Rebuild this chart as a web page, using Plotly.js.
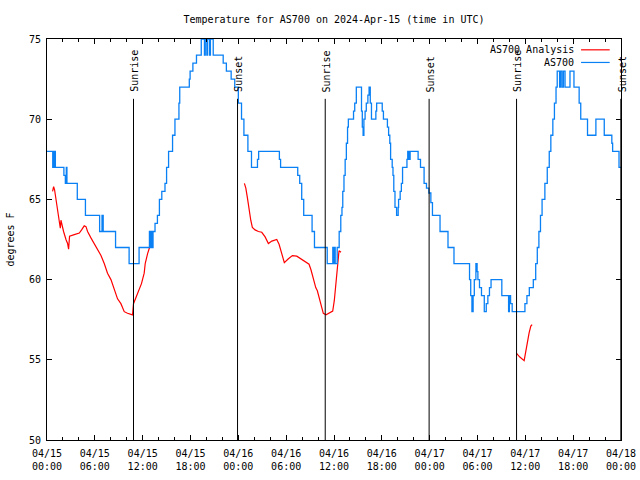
<!DOCTYPE html>
<html>
<head>
<meta charset="utf-8">
<script src="https://cdn.plot.ly/plotly-3.0.1.min.js"></script>
<style>html,body{margin:0;padding:0;background:#fff;}#chart{width:640px;height:480px;}</style>
</head>
<body>
<div id="chart"></div>
<script>
// ---- data (hours after 2024-04-15 00:00 UTC) ----
const chartTitle = "Temperature for AS700 on 2024-Apr-15 (time in UTC)";
const yTitle = "degrees F";
const seriesNames = ["AS700 Analysis", "AS700"];

// AS700 observed (value holds from each time until the next)
const blueHours = [0,0.72,0.78,0.88,0.95,1.05,2.12,2.3,2.42,2.5,3.8,4.82,6.6,6.9,7.05,8.6,10.3,11.55,12.85,12.95,13.05,13.15,13.3,13.55,13.85,14.1,14.4,14.8,15.0,15.25,15.75,16.05,16.55,16.65,17.85,17.95,18.3,18.75,19.35,19.75,19.85,20.05,20.15,20.4,20.5,20.85,22.1,22.5,23.1,23.55,24.0,24.4,24.7,25.2,25.65,26.4,26.55,29.15,29.3,31.45,31.7,31.95,32.2,33.25,33.55,35.15,35.85,35.95,36.05,36.15,36.4,36.65,36.85,37.0,37.1,37.25,37.4,37.55,37.7,37.8,38.45,38.6,38.8,39.45,39.55,39.65,39.75,39.9,40.05,40.25,40.4,40.55,40.7,41.25,41.35,42.05,42.2,42.7,42.85,43.0,43.1,43.3,43.4,43.5,43.65,43.85,44.05,44.1,44.3,44.45,44.6,45.15,45.25,45.3,45.4,45.45,45.55,46.55,46.85,47.3,47.6,47.9,48.15,48.35,49.3,50.3,51.05,53.0,53.15,53.3,53.45,53.6,53.8,53.95,54.05,54.25,54.5,54.85,55.1,55.3,55.5,55.7,57.05,57.9,58.0,58.15,58.35,59.95,60.2,60.5,61.0,61.3,61.5,61.7,61.9,62.1,62.45,62.75,63.0,63.2,63.45,63.65,63.85,64.0,64.3,64.42,64.6,64.78,64.98,65.6,66.1,66.75,66.95,67.8,68.85,69.9,70.85,70.95,71.75,72];
const blueTemps = [68,67,68,67,68,67,66.5,66,67,66,65,64,63,64,63,62,61,62,63,62,63,62,63,63.5,64,65,65.5,66,67,68,69,70,71,72,72.5,73,73.5,74,75,74,75,74,75,74,75,74,73.5,73,72.5,72,71,70,69,68,67,67.5,68,67.5,67,66.5,66,65,64,63,62,61,62,61,62,61,62,63,64,64.5,65.5,66.5,67.5,68.5,69.5,70,70.5,71,72,70.5,69.5,69,70,70.5,71,71.5,72,71,70,70.5,71,70.5,70,69.5,69,68.5,67.5,67,66.5,65.5,64.5,64,64.5,65,65.5,66,67,67.5,68,67.5,68,67.5,68,67.5,67,66,65.7,65.4,64.8,64,63,62,61,60,59,58,59,60,61,60.5,60,59.5,59,58,58.5,59,59.5,60,59,58,59,58.5,58,58.5,59,59.5,60,61,62,63,64,65,66,67,68,69,70,71,72,73,72,73,72,73,72,73,72,71,70,69,70,69,68.5,68,67,67];

// AS700 Analysis (null = no analysis)
const redHours = [0.7,0.83,0.95,1.13,1.33,1.54,1.67,1.75,1.88,2.08,2.38,2.58,2.71,2.83,3.42,4.05,4.34,4.67,4.89,5.09,5.51,5.93,6.34,6.77,7.18,7.59,8.02,8.43,8.85,9.27,9.69,10.1,10.73,10.85,11.15,11.57,11.85,12.19,12.32,12.61,12.86,
  18,
  24.76,24.94,25.14,25.35,25.56,25.76,26.1,26.52,26.94,27.36,27.77,28.2,28.82,29.11,29.45,29.77,30.28,30.78,31.33,31.83,32.37,32.87,33.12,33.41,33.71,33.91,34.16,34.37,34.66,35.0,35.38,35.84,36.04,36.25,36.47,36.63,36.88,
  48,
  58.9,59.31,59.85,60.06,60.28,60.48,60.69,60.85];
const redTemps = [65.5,65.8,65.6,65.0,64.3,63.7,63.2,63.7,63.4,63.0,62.5,62.25,61.9,62.7,62.8,62.9,63.1,63.35,63.3,63.0,62.6,62.25,61.9,61.5,61.0,60.4,60.0,59.4,58.8,58.5,58.0,57.9,57.8,58.5,58.9,59.4,59.75,60.4,61.0,61.6,62.0,
  null,
  66.0,65.7,65.1,64.3,63.7,63.25,63.1,63.0,62.95,62.66,62.25,62.4,62.5,62.2,61.6,61.06,61.3,61.5,61.46,61.3,61.1,60.96,60.6,60.0,59.5,59.3,58.8,58.4,57.9,57.8,57.9,58.04,58.7,59.75,61.0,61.8,61.7,
  null,
  55.4,55.17,54.95,55.6,56.2,56.7,57.1,57.2];

const sunHours = [10.85, 23.9, 34.9, 47.93, 58.9, 71.98];
const sunLabels = ["Sunrise","Sunset","Sunrise","Sunset","Sunrise","Sunset"];

// ---- helpers ----
const T0 = Date.UTC(2024, 3, 15);
function toDate(h) {
  if (h === null) return null;
  const d = new Date(T0 + Math.round(h * 3600000));
  return d.toISOString().replace('T', ' ').slice(0, 19);
}
const FONT = "DejaVu Sans Mono, monospace";
const BLUE = "#0a80f5";
const RED = "#ff0000";
const HOUR = 3600000;

const traces = [
  {x: redHours.map(toDate), y: redTemps, name: seriesNames[0], type: 'scatter', mode: 'lines',
   line: {color: RED, width: 1.2}, connectgaps: false, showlegend: false},
  {x: blueHours.map(toDate), y: blueTemps, name: seriesNames[1], type: 'scatter', mode: 'lines',
   line: {color: BLUE, width: 1.3, shape: 'hv'}, showlegend: false}
];

const shapes = [];
const annotations = [];
sunHours.forEach((h, i) => {
  shapes.push({type: 'line', xref: 'x', yref: 'y', x0: toDate(h), x1: toDate(h), y0: 50, y1: 71.27,
               line: {color: '#000', width: 1}});
  annotations.push({x: toDate(h), y: 71.55, xref: 'x', yref: 'y', text: sunLabels[i], textangle: -90,
                    showarrow: false, xanchor: 'center', yanchor: 'bottom', xshift: 1,
                    font: {family: FONT, size: 10, color: '#000'}});
});
// key (text right-aligned, sample line to the right)
const keyY = [0.973, 0.9415];
const keyColors = [RED, BLUE];
seriesNames.forEach((n, i) => {
  annotations.push({x: 0.922, y: keyY[i], xref: 'paper', yref: 'paper', text: n, showarrow: false,
                    xanchor: 'right', yanchor: 'middle', font: {family: FONT, size: 10, color: '#000'}});
  shapes.push({type: 'line', xref: 'paper', yref: 'paper', x0: 0.9304, x1: 0.9803, y0: keyY[i], y1: keyY[i],
               line: {color: keyColors[i], width: 1.2}});
});

const layout = {
  width: 640, height: 480,
  margin: {l: 47, r: 19, t: 39, b: 40, pad: 0},
  paper_bgcolor: '#fff', plot_bgcolor: '#fff',
  font: {family: FONT, size: 10, color: '#000'},
  showlegend: false,
  title: {text: chartTitle, font: {family: FONT, size: 10, color: '#000'},
          x: 0.5, xref: 'paper', xanchor: 'center', y: 0.96, yref: 'container', yanchor: 'middle'},
  xaxis: {
    type: 'date', range: [toDate(0), toDate(72)],
    tick0: toDate(0), dtick: 6 * HOUR, tickformat: '%m/%d<br>%H:%M',
    ticks: 'inside', ticklen: 5, tickcolor: '#000', tickwidth: 1,
    minor: {dtick: 2 * HOUR, ticks: 'inside', ticklen: 3, tickcolor: '#000', showgrid: false},
    showline: true, linecolor: '#000', linewidth: 1, mirror: 'ticks',
    showgrid: false, zeroline: false, ticklabelstandoff: 4,
    tickfont: {family: FONT, size: 10, color: '#000'}
  },
  yaxis: {
    range: [50, 75], tick0: 50, dtick: 5,
    ticks: 'inside', ticklen: 5, tickcolor: '#000', tickwidth: 1,
    showline: true, linecolor: '#000', linewidth: 1, mirror: 'ticks',
    showgrid: false, zeroline: false, ticklabelstandoff: 3,
    tickfont: {family: FONT, size: 10, color: '#000'},
    title: {text: yTitle, font: {family: FONT, size: 10, color: '#000'}, standoff: 12}
  },
  shapes: shapes,
  annotations: annotations
};

Plotly.newPlot('chart', traces, layout, {staticPlot: true, displayModeBar: false});
</script>
</body>
</html>
